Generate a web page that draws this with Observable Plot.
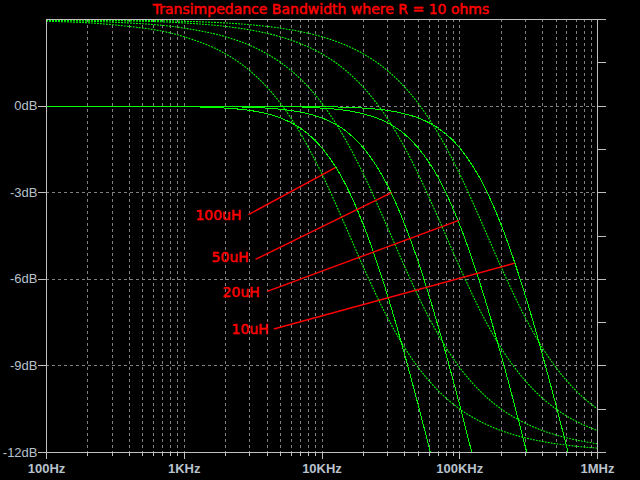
<!DOCTYPE html>
<html>
<head>
<meta charset="utf-8">
<script src="https://cdn.jsdelivr.net/npm/d3@7"></script>
<script src="https://cdn.jsdelivr.net/npm/@observablehq/plot@0.6"></script>
<style>
  html, body { margin: 0; padding: 0; background: #000; }
  #chart svg { display: block; }
</style>
</head>
<body>
<div id="chart"></div>
<script>
// ---------- data ----------
const title = "Transimpedance Bandwidth where R = 10 ohms";
const seriesNames = ["100uH", "50uH", "20uH", "10uH"];
const freqs = [100, 300, 1000, 2000, 3000, 5000, 7000, 10000, 15000, 20000, 30000, 40000,
               50000, 70000, 100000, 150000, 200000, 300000, 400000, 500000, 700000, 1000000];

// magnitude (dB), null = below the plot
const mag100uH = [0, 0, -0.02, -0.07, -0.15, -0.41, -0.77, -1.45, -2.76, -4.12, -6.58, -8.64,
                  -10.36, -13.08, null, null, null, null, null, null, null, null];
const mag50uH  = [0, 0, 0, -0.02, -0.04, -0.11, -0.21, -0.41, -0.87, -1.45, -2.76, -4.12,
                  -5.40, -7.66, -10.36, -13.66, null, null, null, null, null, null];
const mag20uH  = [0, 0, 0, 0, -0.01, -0.02, -0.03, -0.07, -0.15, -0.27, -0.58, -0.98,
                  -1.45, -2.49, -4.12, -6.58, -8.64, -11.82, -14.19, null, null, null];
const mag10uH  = [0, 0, 0, 0, 0, 0, -0.01, -0.02, -0.04, -0.07, -0.15, -0.27,
                  -0.41, -0.77, -1.45, -2.76, -4.12, -6.58, -8.64, -10.36, -13.08, -16.07];

// phase (degrees), right axis 0° (top) to -90° (bottom)
const ph100uH = [-0.36, -1.08, -3.60, -7.16, -10.67, -17.44, -23.74, -32.14, -43.30, -51.49, -62.05, -68.30,
                 -72.34, -77.19, -80.96, -83.94, -85.45, -86.96, -87.72, -88.18, -88.70, -89.09];
const ph50uH  = [-0.18, -0.54, -1.80, -3.60, -5.38, -8.93, -12.40, -17.44, -25.23, -32.14, -43.30, -51.49,
                 -57.52, -65.55, -72.34, -78.02, -80.96, -83.94, -85.45, -86.36, -87.40, -88.18];
const ph20uH  = [-0.07, -0.22, -0.72, -1.44, -2.16, -3.60, -5.03, -7.16, -10.67, -14.11, -20.66, -26.69,
                 -32.14, -41.33, -51.49, -62.05, -68.30, -75.14, -78.75, -80.96, -83.51, -85.45];
const ph10uH  = [-0.04, -0.11, -0.36, -0.72, -1.08, -1.80, -2.52, -3.60, -5.38, -7.16, -10.67, -14.11,
                 -17.44, -23.74, -32.14, -43.30, -51.49, -62.05, -68.30, -72.34, -77.19, -80.96];

// axes
const yTicks = [0, -3, -6, -9, -12];
const yTickLabels = ["0dB", "-3dB", "-6dB", "-9dB", "-12dB"];
const xDecades = [100, 1000, 10000, 100000, 1000000];
const xTickLabels = ["100Hz", "1KHz", "10KHz", "100KHz", "1MHz"];
const phaseTicks = [0, -9, -18, -27, -36, -45, -54, -63, -72, -81, -90];

// annotations: label position and pointer line (freq, dB)
const labelFreq = [2604, 2942, 3536, 4110];
const labelDb   = [-3.94, -5.41, -6.63, -7.89];
const lineFromFreq = [2927, 3290, 4002, 4468];
const lineFromDb   = [-3.76, -5.31, -6.42, -7.72];
const lineToFreq   = [12500, 31960, 98400, 250900];
const lineToDb     = [-2.13, -3.00, -3.96, -5.44];

// ---------- build tables ----------
const mags = [mag100uH, mag50uH, mag20uH, mag10uH];
const phases = [ph100uH, ph50uH, ph20uH, ph10uH];
const yMin = -12, yMax = 3;
// phase axis shares the frame: 0° at top (3 dB), -90° at bottom (-12 dB)
const phaseToY = p => yMax + p * (yMax - yMin) / 90;

const magRows = [];
const phaseRows = [];
seriesNames.forEach((name, s) => {
  freqs.forEach((f, i) => {
    if (mags[s][i] !== null) magRows.push({series: name, f, v: mags[s][i]});
    phaseRows.push({series: name, f, v: phaseToY(phases[s][i])});
  });
});
const annotations = seriesNames.map((name, i) => ({
  name, lx: labelFreq[i], ly: labelDb[i],
  x1: lineFromFreq[i], y1: lineFromDb[i], x2: lineToFreq[i], y2: lineToDb[i]
}));

const minorTicks = [];
for (let d = 100; d < 1e6; d *= 10) for (let k = 2; k <= 9; k++) minorTicks.push(d * k);
const gridFreqs = minorTicks.concat([1000, 10000, 100000]);
const xLabelMap = new Map(xDecades.map((d, i) => [d, xTickLabels[i]]));
const yLabelMap = new Map(yTicks.map((d, i) => [d, yTickLabels[i]]));

const frameColor = "#c0c0c0";
const gridColor = "#808080";
const labelColor = "#b8c2cc";
const green = "#00ff00";
const axisFont = "Liberation Sans, Arial, sans-serif";
const redFont = "DejaVu Sans, sans-serif";

const chart = Plot.plot({
  width: 640,
  height: 480,
  marginTop: 19,
  marginLeft: 46,
  marginRight: 43,
  marginBottom: 28,
  style: {background: "#000", overflow: "visible"},
  x: {type: "log", domain: [100, 1e6]},
  y: {domain: [yMin, yMax]},
  marks: [
    Plot.gridX({ticks: gridFreqs, stroke: gridColor, strokeOpacity: 1, strokeDasharray: "3,3", shapeRendering: "crispEdges"}),
    Plot.gridY({ticks: [0, -3, -6, -9], stroke: gridColor, strokeOpacity: 1, strokeDasharray: "3,3", shapeRendering: "crispEdges"}),
    Plot.line(phaseRows, {x: "f", y: "v", z: "series", stroke: green, strokeWidth: 1.1, strokeDasharray: "1,2", curve: "monotone-x"}),
    Plot.line(magRows, {x: "f", y: "v", z: "series", stroke: green, strokeWidth: 1, curve: "monotone-x", clip: true, shapeRendering: "crispEdges"}),
    Plot.frame({stroke: frameColor, shapeRendering: "crispEdges"}),
    Plot.axisX({ticks: minorTicks, tickSize: 4, tickFormat: () => "", stroke: frameColor, shapeRendering: "crispEdges", label: null}),
    Plot.axisX({ticks: xDecades, tickSize: 7, tickPadding: 4, tickFormat: d => xLabelMap.get(d),
      stroke: frameColor, fill: labelColor, fontSize: 13, fontFamily: axisFont, fontWeight: "bold", label: null, shapeRendering: "crispEdges"}),
    Plot.axisY({ticks: yTicks, tickSize: 8, tickPadding: 1, tickFormat: d => yLabelMap.get(d),
      stroke: frameColor, fill: labelColor, fontSize: 13, fontFamily: axisFont, label: null, shapeRendering: "crispEdges"}),
    Plot.axisY({ticks: phaseTicks.map(phaseToY), anchor: "right", tickSize: 8, tickFormat: () => "",
      stroke: frameColor, label: null, shapeRendering: "crispEdges"}),
    Plot.link(annotations, {x1: "x1", y1: "y1", x2: "x2", y2: "y2", stroke: "#ff0000", strokeWidth: 1.4}),
    Plot.text(annotations, {x: "lx", y: "ly", text: "name", textAnchor: "end", lineAnchor: "bottom",
      fill: "#ff0000", stroke: "#ff0000", strokeWidth: 0.5, fontSize: 14, fontFamily: redFont}),
    Plot.text([title], {frameAnchor: "top", text: d => d, lineAnchor: "bottom", dy: -5.5, dx: -1,
      fill: "#ff0000", stroke: "#ff0000", strokeWidth: 0.5, fontSize: 14, fontFamily: redFont})
  ]
});
document.getElementById("chart").appendChild(chart);
</script>
</body>
</html>
